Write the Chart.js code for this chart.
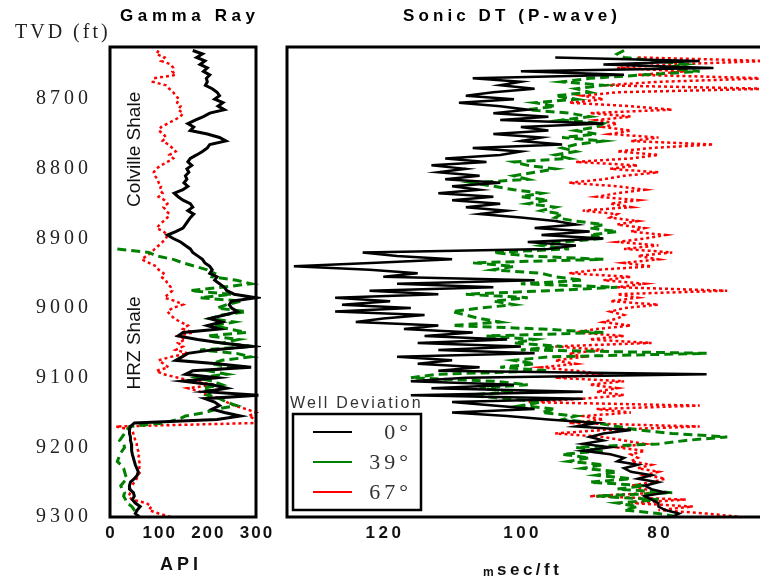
<!DOCTYPE html>
<html>
<head>
<meta charset="utf-8">
<title>Gamma Ray / Sonic DT logs</title>
<script src="https://cdn.jsdelivr.net/npm/chart.js@4.4.1/dist/chart.umd.min.js"></script>
<style>
  html, body { margin: 0; padding: 0; background: #fff; overflow: hidden; }
  #wrap { position: relative; width: 760px; height: 580px; overflow: hidden; }
  #grBox { position: absolute; left: 0; top: 0; width: 280px; height: 580px; }
  #dtBox { position: absolute; left: 280px; top: 0; width: 520px; height: 580px; }
</style>
</head>
<body>
<div id="wrap">
  <div id="grBox"><canvas id="grChart" width="280" height="580"></canvas></div>
  <div id="dtBox"><canvas id="dtChart" width="520" height="580"></canvas></div>
</div>
<script>
// Depth samples (TVD, ft), every 5 ft from 8630 to 9300
const depths = [];
for (let d = 8630; d <= 9300; d += 5) depths.push(d);

const wellLabels = ['0°', '39°', '67°'];

// Gamma ray (API) for each well deviation
const gr0 = [
  170, 190, 178, 195, 185, 200, 192, 205, 198, 200,   // 8630
  196, 210, 220, 225, 215, 232, 222, 235, 205, 192,   // 8680
  175, 160, 172, 165, 200, 225, 238, 205, 200, 190,   // 8730
  178, 165, 160, 168, 158, 162, 155, 158, 152, 160,   // 8780
  150, 132, 140, 150, 165, 170, 160, 172, 165, 160,   // 8830
  155, 150, 135, 118, 130, 145, 155, 165, 170, 180,   // 8880
  190, 195, 205, 210, 205, 220, 215, 225, 235, 240,   // 8930
  255, 300, 250, 245, 250, 262, 235, 205, 230, 200,   // 8980
  225, 150, 140, 180, 230, 290, 210, 160, 148, 135,   // 9030
  220, 290, 170, 155, 220, 150, 210, 240, 195, 305,   // 9080
  195, 215, 225, 210, 235, 268, 220, 50, 42, 40,      // 9130
  40, 42, 42, 44, 44, 45, 46, 48, 50, 52,             // 9180
  55, 58, 56, 50, 42, 40, 40, 48, 50, 46,             // 9230
  52, 62, 56, 52, 60                                  // 9280
];
const gr39 = [
  null, null, null, null, null, null, null, null, null, null,
  null, null, null, null, null, null, null, null, null, null,
  null, null, null, null, null, null, null, null, null, null,
  null, null, null, null, null, null, null, null, null, null,
  null, null, null, null, null, null, null, null, null, null,
  null, null, null, null, null, null, null, 15, 80, 95,      // 8880
  130, 150, 175, 200, 215, 210, 260, 290, 230, 165,         // 8930
  250, 185, 270, 240, 220, 280, 230, 205, 255, 215,         // 8980
  245, 280, 200, 265, 230, 295, 185, 260, 290, 230,         // 9030
  210, 250, 200, 240, 180, 210, 230, 190, 215, 200,         // 9080
  225, 240, 260, 220, 195, 155, 140, 110, 40, 35,           // 9130
  30, 25, 20, 28, 30, 25, 20, 18, 15, 22,                   // 9180
  28, 30, 32, 35, 28, 22, 25, 30, 28, 32,                   // 9230
  35, 45, 50, 55, 60                                        // 9280
];
const gr67 = [
  100, 95, 112, 105, 125, 130, 128, 135, 90, 88,      // 8630
  115, 122, 130, 135, 142, 138, 145, 140, 150, 145,   // 8680
  132, 118, 105, 100, 110, 115, 108, 120, 128, 135,   // 8730
  122, 130, 118, 105, 95, 90, 92, 98, 100, 105,       // 8780
  102, 108, 100, 112, 118, 110, 115, 122, 118, 110,   // 8830
  102, 96, 110, 118, 115, 108, 100, 92, 85, 75,       // 8880
  65, 80, 95, 100, 110, 105, 115, 118, 125, 128,      // 8930
  120, 112, 135, 150, 128, 118, 125, 132, 145, 160,   // 8980
  150, 170, 140, 155, 140, 150, 135, 160, 125, 100,   // 9030
  110, 120, 95, 110, 140, 170, 215, 160, 185, 200,    // 9080
  230, 240, 255, 280, 300, 285, 300, 300, 12, 45,     // 9130
  48, 50, 52, 55, 55, 58, 60, 58, 60, 62,             // 9180
  60, 62, 58, 55, 50, 45, 40, 42, 38, 45,             // 9230
  75, 85, 80, 100, 125                                // 9280
];

// Sonic DT (usec/ft) for each well deviation
const dt0 = [
  null, null, 95, 74, 88, 72, 100, 85, 107, 100,      // 8630
  103, 98, 104, 108, 101, 109, 103, 99, 104, 96,      // 8680
  103, 88, 100, 96, 104, 97, 100, 94, 107, 100,       // 8730
  103, 111, 105, 113, 108, 112, 106, 111, 103, 110,   // 8780
  106, 112, 104, 110, 103, 108, 102, 106, 100, 95,    // 8830
  92, 98, 90, 97, 88, 99, 92, 96, 123, 118,           // 8880
  110, 121, 133, 122, 115, 120, 98, 118, 104, 122,    // 8930
  112, 127, 119, 126, 116, 127, 114, 120, 124, 112,   // 8980
  117, 107, 114, 102, 115, 100, 112, 98, 118, 110,    // 9030
  115, 106, 112, 73, 108, 116, 101, 113, 91, 116,     // 9080
  91, 110, 104, 98, 110, 102, 96, 89, 92, 84,         // 9130
  88, 90, 88, 91, 87, 91, 87, 85, 86, 83,             // 9180
  85, 84, 81, 83, 80, 82, 81, 79, 82, 81,             // 9230
  80, 80, 79, 77, 78                                  // 9280
];
const dt39 = [
  85, 86, 85, 80, 76, 79, 74, 82, 90, 94,             // 8630
  88, 92, 90, 95, 92, 98, 95, 99, 93, 90,             // 8680
  94, 88, 89, 92, 89, 94, 88, 92, 94, 92,             // 8730
  95, 93, 101, 99, 95, 98, 101, 99, 107, 104,         // 8780
  101, 97, 100, 96, 99, 95, 97, 94, 95, 92,           // 8830
  88, 90, 86, 90, 88, 94, 97, 93, 104, 99,            // 8880
  88, 107, 101, 104, 97, 95, 91, 100, 86, 96,         // 8930
  108, 99, 104, 101, 106, 110, 108, 106, 103, 110,    // 8980
  97, 88, 105, 98, 101, 94, 100, 73, 96, 101,         // 9030
  98, 103, 96, 112, 116, 104, 99, 106, 101, 108,      // 9080
  102, 97, 100, 95, 97, 92, 94, 89, 86, 83,           // 9130
  78, 70, 76, 80, 92, 88, 94, 90, 93, 88,             // 9180
  91, 86, 89, 84, 90, 82, 86, 78, 89, 80,             // 9230
  86, 83, 85, 80, 77                                  // 9280
];
const dt67 = [
  null, null, 83, 64, 78, 86, 76, 83, 64, 80,         // 8630
  88, 64, 86, 91, 88, 93, 84, 78, 90, 84,             // 8680
  89, 86, 88, 84, 87, 80, 84, 72, 81, 86,             // 8730
  80, 84, 92, 83, 87, 80, 85, 88, 93, 86,             // 8780
  82, 86, 89, 83, 87, 84, 91, 86, 87, 83,             // 8830
  86, 82, 84, 79, 82, 86, 80, 85, 78, 83,             // 8880
  80, 85, 81, 89, 93, 84, 88, 82, 86, 70,             // 8930
  86, 83, 87, 80, 85, 87, 85, 86, 88, 84,             // 8980
  89, 92, 85, 90, 81, 95, 88, 93, 91, 95,             // 9030
  92, 97, 92, 88, 95, 85, 90, 86, 89, 85,             // 9080
  91, 99, 74, 89, 84, 91, 88, 93, 74, 88,             // 9130
  95, 88, 85, 82, 86, 82, 84, 83, 84, 81,             // 9180
  83, 80, 82, 79, 81, 84, 82, 80, 90, 76,             // 9230
  84, 75, 80, 73, 68                                  // 9280
];

const grTicks = [0, 100, 200, 300];
const dtTicks = [120, 100, 80];
const depthTicks = [8700, 8800, 8900, 9000, 9100, 9200, 9300];

const colors = ['#000000', '#008000', '#ff0000'];
const dashes = [[], [9, 5], [3, 3]];

// pair each value with its depth, skipping gaps
const toPoints = (vals) => depths
  .map((d, i) => ({ x: vals[i], y: d }))
  .filter(p => p.x !== null);

// text with letter spacing; spacing trailing the last glyph is ignored
function spacedText(ctx, text, x, y, font, spacing, align, color) {
  ctx.save();
  ctx.font = font;
  ctx.letterSpacing = spacing + 'px';
  ctx.fillStyle = color || '#000';
  ctx.textBaseline = 'middle';
  ctx.textAlign = 'left';
  const w = ctx.measureText(text).width - spacing;
  let left = x;
  if (align === 'center') left = x - w / 2;
  if (align === 'right') left = x - w;
  ctx.fillText(text, left, y);
  ctx.restore();
  return w;
}

const makeSets = (series, widths) => series.map((vals, i) => ({
  label: wellLabels[i],
  data: toPoints(vals),
  borderColor: colors[i],
  backgroundColor: colors[i],
  borderWidth: widths[i],
  borderDash: dashes[i],
  showLine: true,
  pointRadius: 0,
  tension: 0,
  clip: 5
}));

// box around the track + tick labels drawn with spacing
const logTrack = {
  id: 'logTrack',
  afterDatasetsDraw(chart) {
    const { ctx, chartArea: a } = chart;
    ctx.save();
    ctx.strokeStyle = '#000';
    ctx.lineWidth = 3;
    ctx.strokeRect(a.left, a.top, a.right - a.left, a.bottom - a.top);
    ctx.restore();
  },
  afterDraw(chart, args, opts) {
    const ctx = chart.ctx;
    const xs = chart.scales.x, ys = chart.scales.y;
    opts.xTicks.forEach(v => {
      spacedText(ctx, String(v), xs.getPixelForValue(v), opts.xTickY, 'bold 17px "Liberation Sans", Arial, sans-serif', opts.xTickSpacing, 'center', '#111');
    });
    if (opts.depthLabels) {
      depthTicks.forEach(d => {
        spacedText(ctx, String(d), 88, ys.getPixelForValue(d), '20px "Liberation Serif", "Times New Roman", serif', 4, 'right', '#222');
      });
    }
    (opts.texts || []).forEach(t => {
      spacedText(ctx, t.text, t.x, t.y, t.font, t.spacing, t.align, t.color);
    });
    (opts.zones || []).forEach(z => {
      ctx.save();
      ctx.translate(xs.getPixelForValue(z.gr), ys.getPixelForValue(z.depth));
      ctx.rotate(-Math.PI / 2);
      spacedText(ctx, z.text, 0, 0, '19px "Liberation Sans", Arial, sans-serif', 0, 'center', '#111');
      ctx.restore();
    });
  }
};

// legend box built from the datasets
const wellLegend = {
  id: 'wellLegend',
  afterDraw(chart) {
    const ctx = chart.ctx;
    const left = 13, top = 414, w = 128, h = 96;
    spacedText(ctx, 'Well Deviation', 10, 404, '16px "Liberation Sans", Arial, sans-serif', 2.2, 'left', '#333');
    ctx.save();
    ctx.fillStyle = '#fff';
    ctx.fillRect(left, top, w, h);
    ctx.strokeStyle = '#000';
    ctx.lineWidth = 2.5;
    ctx.strokeRect(left, top, w, h);
    chart.data.datasets.forEach((ds, i) => {
      const y = top + 18 + i * 30;
      ctx.strokeStyle = ds.borderColor;
      ctx.lineWidth = 2;
      ctx.setLineDash([]);
      ctx.beginPath();
      ctx.moveTo(left + 20, y);
      ctx.lineTo(left + 59, y);
      ctx.stroke();
      spacedText(ctx, ds.label, left + 115, y + 1, '22px "Liberation Serif", "Times New Roman", serif', 4, 'right', '#333');
    });
    ctx.restore();
  }
};

const depthAxis = {
  type: 'linear',
  reverse: true,
  min: 8625,
  max: 9300,
  grid: { display: false, drawTicks: false },
  border: { display: false },
  ticks: { display: false, stepSize: 100 }
};

const fixHeight = (h) => (scale) => { scale.height = h; };
const fixWidth = (w) => (scale) => { scale.width = w; };

// Gamma ray track
new Chart(document.getElementById('grChart'), {
  type: 'scatter',
  data: { datasets: makeSets([gr0, gr39, gr67], [3, 3, 2.5]) },
  options: {
    responsive: false,
    animation: false,
    layout: { padding: { top: 47, right: 24, left: 0, bottom: 0 } },
    scales: {
      x: {
        type: 'linear', min: 0, max: 300,
        grid: { display: false, drawTicks: false },
        border: { display: false },
        ticks: { display: false, stepSize: 100 },
        afterFit: fixHeight(63)
      },
      y: Object.assign({}, depthAxis, { afterFit: fixWidth(110) })
    },
    plugins: {
      legend: { display: false },
      tooltip: { enabled: false },
      logTrack: {
        xTicks: grTicks,
        xTickY: 533,
        xTickSpacing: 2,
        depthLabels: true,
        texts: [
          { text: 'TVD (ft)', x: 15, y: 33, font: '20px "Liberation Serif", "Times New Roman", serif', spacing: 3, align: 'left', color: '#222' },
          { text: 'Gamma Ray', x: 120, y: 16, font: 'bold 17px "Liberation Sans", Arial, sans-serif', spacing: 4.6, align: 'left', color: '#000' },
          { text: 'API', x: 179, y: 565, font: 'bold 18px "Liberation Sans", Arial, sans-serif', spacing: 4, align: 'center', color: '#111' }
        ],
        zones: [
          { text: 'Colville Shale', gr: 50, depth: 8772 },
          { text: 'HRZ Shale', gr: 50, depth: 9050 }
        ]
      }
    }
  },
  plugins: [logTrack]
});

// Sonic DT track (slowness decreasing to the right)
new Chart(document.getElementById('dtChart'), {
  type: 'scatter',
  data: { datasets: makeSets([dt0, dt39, dt67], [2.5, 3, 2.5]) },
  options: {
    responsive: false,
    animation: false,
    layout: { padding: { top: 47, right: 4, left: 7, bottom: 0 } },
    scales: {
      x: {
        type: 'linear', min: 60, max: 134, reverse: true,
        grid: { display: false, drawTicks: false },
        border: { display: false },
        ticks: { display: false, stepSize: 20 },
        afterFit: fixHeight(63)
      },
      y: Object.assign({}, depthAxis, { display: false })
    },
    plugins: {
      legend: { display: false },
      tooltip: { enabled: false },
      logTrack: {
        xTicks: dtTicks,
        xTickY: 533,
        xTickSpacing: 3.5,
        texts: [
          { text: 'Sonic DT (P-wave)', x: 123, y: 16, font: 'bold 17px "Liberation Sans", Arial, sans-serif', spacing: 4.1, align: 'left', color: '#000' },
          { text: 'm', x: 203, y: 573, font: 'bold 12px "Liberation Sans", Arial, sans-serif', spacing: 0, align: 'left', color: '#111' },
          { text: 'sec/ft', x: 217, y: 570, font: 'bold 17px "Liberation Sans", Arial, sans-serif', spacing: 3.5, align: 'left', color: '#111' }
        ]
      }
    }
  },
  plugins: [logTrack, wellLegend]
});
</script>
</body>
</html>
